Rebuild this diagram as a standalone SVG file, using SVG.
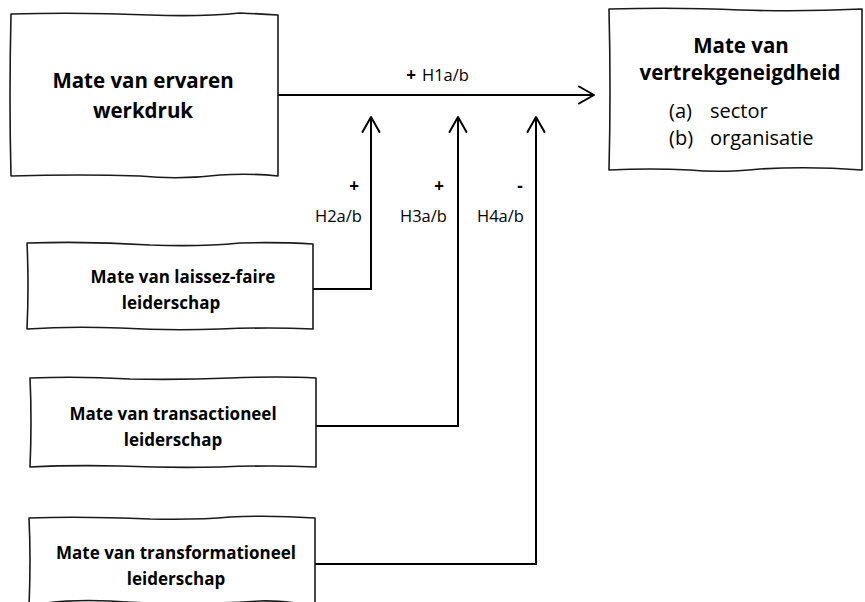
<svg xmlns="http://www.w3.org/2000/svg" width="865" height="602" viewBox="0 0 865 602">
<defs>
<style>
.box{fill:#fff;stroke:#1a1a1a;stroke-width:1.6;stroke-linejoin:round}
.con{fill:none;stroke:#000;stroke-width:2}
.tb{font-family:"Open Sans","Noto Sans",sans-serif;font-weight:bold;fill:#000}
.tr{font-family:"Open Sans","Noto Sans",sans-serif;fill:#000}
.big{font-size:20.5px}
.mid{font-size:17px}
.lab{font-size:16.5px}
.lst{font-size:20px}
</style>
<marker id="arr" viewBox="0 0 20 20" refX="17" refY="10" markerWidth="20" markerHeight="20" markerUnits="userSpaceOnUse" orient="auto">
<path d="M2 1.5 L17 10 L2 18.5" fill="none" stroke="#000" stroke-width="2" stroke-linecap="round" stroke-linejoin="round"/>
</marker>
</defs>
<rect width="865" height="602" fill="#fff"/>
<g id="connectors">
<path class="con" d="M278 95 L594 95" marker-end="url(#arr)"/>
<path class="con" d="M313 289 L371 289 L371 117" marker-end="url(#arr)"/>
<path class="con" d="M316 426 L458 426 L458 117" marker-end="url(#arr)"/>
<path class="con" d="M315 564 L536 564 L536 117" marker-end="url(#arr)"/>
<text class="tb" x="411" y="81" font-size="17" text-anchor="middle">+</text>
<text class="tr lab" x="422" y="81">H1a/b</text>
<text class="tb" x="354" y="192" font-size="17" text-anchor="middle">+</text>
<text class="tr lab" x="315" y="222">H2a/b</text>
<text class="tb" x="439" y="192" font-size="17" text-anchor="middle">+</text>
<text class="tr lab" x="400" y="222">H3a/b</text>
<text class="tb" x="520" y="192" font-size="17" text-anchor="middle">-</text>
<text class="tr lab" x="477" y="222">H4a/b</text>
</g>
<g id="node-werkdruk">
<path class="box" d="M11 14 Q80 12 150 15 Q200 17 240 13 Q262 14 278 15 L278 176 Q250 173 220 175 Q180 180 140 176 Q80 174 11 176 Q9 100 11 14 Z"/>
<text class="tb big" x="143" y="88" text-anchor="middle">Mate van ervaren</text>
<text class="tb big" x="143" y="118" text-anchor="middle">werkdruk</text>
</g>
<g id="node-vertrek">
<path class="box" d="M609 9 Q680 7 740 10 Q800 12 862 9 L862 170 Q810 166 760 169 Q720 173 690 170 Q650 168 609 170 Q611 90 609 9 Z"/>
<text class="tb big" x="741" y="53" text-anchor="middle">Mate van</text>
<text class="tb big" x="740" y="80" text-anchor="middle">vertrekgeneigdheid</text>
<text class="tr lst" x="669" y="118">(a)</text>
<text class="tr lst" x="710" y="118">sector</text>
<text class="tr lst" x="669" y="145">(b)</text>
<text class="tr lst" x="710" y="145">organisatie</text>
</g>
<g id="node-laissez">
<path class="box" d="M27 243 Q90 241 150 245 Q200 247 240 243 Q280 242 313 244 L313 329 Q270 327 220 329 Q170 331 120 328 Q70 326 27 329 Q29 285 27 243 Z"/>
<text class="tb mid" x="183" y="283" text-anchor="middle">Mate van laissez-faire</text>
<text class="tb mid" x="171" y="309" text-anchor="middle">leiderschap</text>
</g>
<g id="node-transactioneel">
<path class="box" d="M30 378 Q80 376 130 379 Q180 380 230 378 Q280 376 316 378 L316 467 Q270 465 220 467 Q170 468 120 466 Q70 465 30 467 Q32 420 30 378 Z"/>
<text class="tb mid" x="173" y="420" text-anchor="middle">Mate van transactioneel</text>
<text class="tb mid" x="173" y="446" text-anchor="middle">leiderschap</text>
</g>
<g id="node-transformationeel">
<path class="box" d="M29 518 Q80 516 150 519 Q200 520 230 517 Q270 515 315 518 L315 606 Q280 600 260 601 Q180 606 110 601 Q60 599 29 606 Q31 560 29 518 Z"/>
<text class="tb mid" x="176" y="559" text-anchor="middle">Mate van transformationeel</text>
<text class="tb mid" x="176" y="585" text-anchor="middle">leiderschap</text>
</g>
</svg>
